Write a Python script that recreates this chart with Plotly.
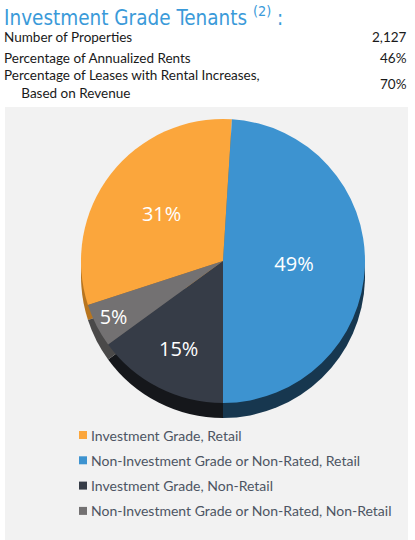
import plotly.graph_objects as go

# ---- data ----
labels = ["Investment Grade, Retail",
          "Non-Investment Grade or Non-Rated, Retail",
          "Investment Grade, Non-Retail",
          "Non-Investment Grade or Non-Rated, Non-Retail"]
values = [31, 49, 15, 5]
colors = ["#FBA63C", "#3D93D0", "#363C47", "#737172"]
side_colors = ["#B8751F", "#17374F", "#15171B", "#4A4949"]

stat_labels = ["Number of Properties",
               "Percentage of Annualized Rents",
               "Percentage of Leases with Rental Increases,<br>     Based on Revenue"]
stat_values = ["2,127", "46%", "70%"]

W, H = 415, 540

def px(x):
    return x / W

def py(y):
    return 1 - y / H

cx, cy, r, depth = 223, 261, 142, 15
dom_x = [px(cx - r), px(cx + r)]
dom_y = [py(cy + r), py(cy - r)]
dom_y_side = [py(cy + r + depth), py(cy - r + depth)]

fig = go.Figure()

# depth (side) of the pie
fig.add_trace(go.Pie(
    labels=labels, values=values, sort=False, direction="clockwise",
    rotation=252, domain=dict(x=dom_x, y=dom_y_side),
    marker=dict(colors=side_colors, line=dict(width=0)),
    textinfo="none", hoverinfo="skip", showlegend=False,
))

# top face
fig.add_trace(go.Pie(
    labels=labels, values=values, sort=False, direction="clockwise",
    rotation=252, domain=dict(x=dom_x, y=dom_y),
    marker=dict(colors=colors, line=dict(width=0)),
    texttemplate="%{value}%", textposition="inside",
    insidetextorientation="horizontal",
    textfont=dict(family="Open Sans", size=20, color="white"),
    showlegend=False,
))

shapes = [dict(type="rect", xref="paper", yref="paper",
               x0=px(5), x1=px(408), y0=py(540), y1=py(107),
               fillcolor="#F2F2F2", line=dict(width=0), layer="below")]

title_font = dict(family="DejaVu Sans Condensed, Roboto Condensed, Roboto",
                  size=20.5, color="#3A9AD9", weight=500)
annotations = [dict(
    text="Investment Grade Tenants <sup>(2)</sup> :", x=px(2), y=py(16),
    xref="paper", yref="paper", xanchor="left", yanchor="middle",
    showarrow=False, font=title_font)]

stat_y = [37, 58, 84]
for lab, val, yy in zip(stat_labels, stat_values, stat_y):
    annotations.append(dict(text=lab, x=px(2), y=py(yy), xref="paper", yref="paper",
                            xanchor="left", yanchor="middle", align="left",
                            showarrow=False,
                            font=dict(family="Lato", size=13.5, color="#1A1A1A")))
    annotations.append(dict(text=val, x=px(409), y=py(yy), xref="paper", yref="paper",
                            xanchor="right", yanchor="middle", align="right",
                            showarrow=False,
                            font=dict(family="Lato", size=13.5, color="#1A1A1A")))

leg_y0, leg_dy = 435, 25.3
for i, (lab, col) in enumerate(zip(labels, colors)):
    yy = leg_y0 + i * leg_dy
    shapes.append(dict(type="rect", xref="paper", yref="paper",
                       x0=px(79), x1=px(87), y0=py(yy + 4), y1=py(yy - 4),
                       fillcolor=col, line=dict(width=0)))
    annotations.append(dict(text=lab, x=px(89), y=py(yy), xref="paper", yref="paper",
                            xanchor="left", yanchor="middle", showarrow=False,
                            font=dict(family="Lato", size=14, color="#4D5563")))

fig.update_layout(
    width=W, height=H, margin=dict(l=0, r=0, t=0, b=0),
    paper_bgcolor="white", plot_bgcolor="white",
    shapes=shapes, annotations=annotations, showlegend=False,
)

fig.write_html("out.html", config={"displayModeBar": False},
               post_script="document.body.style.margin='0';")
